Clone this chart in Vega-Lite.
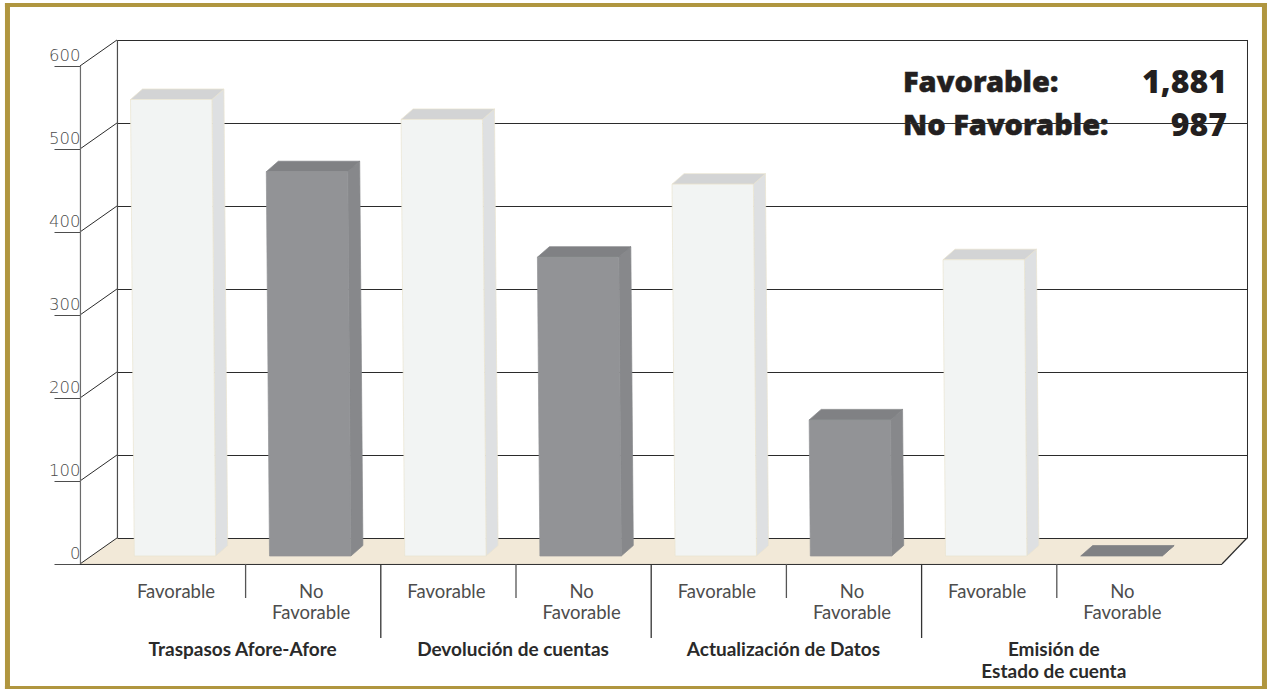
{
"$schema":"https://vega.github.io/schema/vega-lite/v6.json",
"width":1267,"height":689,"padding":0,"autosize":"none","background":"white",
"config":{"view":{"stroke":null},"point":{"opacity":1}},
"data":{"values":[
{"group":"Traspasos Afore-Afore","result":"Favorable","value":550},
{"group":"Traspasos Afore-Afore","result":"No Favorable","value":463},
{"group":"Devolución de cuentas","result":"Favorable","value":526},
{"group":"Devolución de cuentas","result":"No Favorable","value":360},
{"group":"Actualización de Datos","result":"Favorable","value":448},
{"group":"Actualización de Datos","result":"No Favorable","value":164},
{"group":"Emisión de\nEstado de cuenta","result":"Favorable","value":357},
{"group":"Emisión de\nEstado de cuenta","result":"No Favorable","value":0}
]},
"transform":[
{"calculate":"datum.group+'|'+datum.result","as":"key"},
{"calculate":"datum.value*0.83","as":"h"},
{"calculate":"datum.h*0.0083","as":"s"},
{"calculate":"'M40.7,0L52.7,-10.5L'+(52.7-datum.s)+','+(-10.5-datum.h)+'L'+(40.7-datum.s)+','+(-datum.h)+'Z'","as":"sideShape"},
{"calculate":"'M'+(-40.7-datum.s)+','+(-datum.h)+'L'+(40.7-datum.s)+','+(-datum.h)+'L'+(52.7-datum.s)+','+(-10.5-datum.h)+'L'+(-28.7-datum.s)+','+(-10.5-datum.h)+'Z'","as":"topShape"},
{"calculate":"'M-40.7,0L40.7,0L'+(40.7-datum.s)+','+(-datum.h)+'L'+(-40.7-datum.s)+','+(-datum.h)+'Z'","as":"frontShape"}
],
"resolve":{"scale":{"x":"independent","fill":"independent","stroke":"independent"},"axis":{"x":"independent","y":"independent"}},
"layer":[
{"data":{"values":[{}]},"mark":{"type":"point","shape":"M0,0L37,-26L1167,-26L1142,0Z","size":4,"filled":true,"opacity":1,"fill":"#f2e9d8","strokeWidth":0},
 "encoding":{"x":{"datum":63.1,"type":"quantitative","scale":{"domain":[0,1000],"range":[0,1267],"nice":false,"zero":false},"axis":null},
 "y":{"datum":-9.6,"type":"quantitative","scale":{"domain":[0,600],"range":[556,58],"nice":false},"axis":null}}},

{"data":{"values":[{"label":"Favorable:"}]},"mark":{"type":"text","align":"left","baseline":"middle","font":"Noto Sans","fontWeight":900,"fontSize":29,"color":"#231f20","stroke":"#231f20","strokeWidth":0.5},
 "encoding":{"text":{"field":"label"},"x":{"datum":712.7,"type":"quantitative","scale":{"domain":[0,1000],"range":[0,1267],"nice":false,"zero":false},"axis":null},
 "y":{"datum":569.9,"type":"quantitative","scale":{"domain":[0,600],"range":[556,58],"nice":false},"axis":null}}},
{"data":{"values":[{"label":"No Favorable:"}]},"mark":{"type":"text","align":"left","baseline":"middle","font":"Noto Sans","fontWeight":900,"fontSize":29,"color":"#231f20","stroke":"#231f20","strokeWidth":0.5},
 "encoding":{"text":{"field":"label"},"x":{"datum":712.7,"type":"quantitative","scale":{"domain":[0,1000],"range":[0,1267],"nice":false,"zero":false},"axis":null},
 "y":{"datum":518.1,"type":"quantitative","scale":{"domain":[0,600],"range":[556,58],"nice":false},"axis":null}}},
{"data":{"values":[{"label":"1,881"}]},"mark":{"type":"text","align":"right","baseline":"middle","font":"Noto Sans","fontWeight":900,"fontSize":32,"color":"#231f20"},
 "encoding":{"text":{"field":"label"},"x":{"datum":968.4,"type":"quantitative","scale":{"domain":[0,1000],"range":[0,1267],"nice":false,"zero":false},"axis":null},
 "y":{"datum":569.9,"type":"quantitative","scale":{"domain":[0,600],"range":[556,58],"nice":false},"axis":null}}},
{"data":{"values":[{"label":"987"}]},"mark":{"type":"text","align":"right","baseline":"middle","font":"Noto Sans","fontWeight":900,"fontSize":32,"color":"#231f20"},
 "encoding":{"text":{"field":"label"},"x":{"datum":968.4,"type":"quantitative","scale":{"domain":[0,1000],"range":[0,1267],"nice":false,"zero":false},"axis":null},
 "y":{"datum":518.1,"type":"quantitative","scale":{"domain":[0,600],"range":[556,58],"nice":false},"axis":null}}},

{"data":{"values":[{"tick":0},{"tick":100},{"tick":200},{"tick":300},{"tick":400},{"tick":500},{"tick":600}]},
 "mark":{"type":"rule","yOffset":-17.5,"color":"#2b2b2b","strokeWidth":1},
 "encoding":{"x":{"datum":92.7,"type":"quantitative","scale":{"domain":[0,1000],"range":[0,1267],"nice":false,"zero":false},"axis":null},"x2":{"datum":984.6},
 "y":{"field":"tick","type":"quantitative","scale":{"domain":[0,600],"range":[556,58],"nice":false},"axis":null}}},
{"data":{"values":[{"tick":0},{"tick":100},{"tick":200},{"tick":300},{"tick":400},{"tick":500},{"tick":600}]},
 "mark":{"type":"rule","yOffset":8,"y2Offset":-18,"color":"#2b2b2b","strokeWidth":1},
 "encoding":{"x":{"datum":63.1,"type":"quantitative","scale":{"domain":[0,1000],"range":[0,1267],"nice":false,"zero":false},"axis":null},"x2":{"datum":92.3},
 "y":{"field":"tick","type":"quantitative","scale":{"domain":[0,600],"range":[556,58],"nice":false},
   "axis":{"values":[0,100,200,300,400,500,600],"offset":-80,"domain":false,"grid":false,"title":null,"tickSize":26,"tickColor":"#4d4d4d","tickWidth":1,"tickOffset":8,"labelOffset":-11,"labelPadding":-26,"labelAlign":"right","labelBaseline":"middle","labelFont":"DejaVu Sans","labelFontSize":16.5,"labelFontWeight":200,"labelColor":"#4a4a4a"}},
 "y2":{"field":"tick"}}},
{"data":{"values":[{}]},"mark":{"type":"rule","color":"#6b6b6b","strokeWidth":1.2},
 "encoding":{"x":{"datum":63.5,"type":"quantitative","scale":{"domain":[0,1000],"range":[0,1267],"nice":false,"zero":false},"axis":null},
 "y":{"datum":-9.6,"type":"quantitative","scale":{"domain":[0,600],"range":[556,58],"nice":false},"axis":null},"y2":{"datum":590.4}}},
{"data":{"values":[{}]},"mark":{"type":"rule","color":"#4d4d4d","strokeWidth":1.2},
 "encoding":{"x":{"datum":92.7,"type":"quantitative","scale":{"domain":[0,1000],"range":[0,1267],"nice":false,"zero":false},"axis":null},
 "y":{"datum":21.7,"type":"quantitative","scale":{"domain":[0,600],"range":[556,58],"nice":false},"axis":null},"y2":{"datum":621.7}}},
{"data":{"values":[{}]},"mark":{"type":"rule","color":"#2b2b2b","strokeWidth":1},
 "encoding":{"x":{"datum":984.6,"type":"quantitative","scale":{"domain":[0,1000],"range":[0,1267],"nice":false,"zero":false},"axis":null},
 "y":{"datum":21.7,"type":"quantitative","scale":{"domain":[0,600],"range":[556,58],"nice":false},"axis":null},"y2":{"datum":621.7}}},
{"data":{"values":[{}]},"mark":{"type":"rule","color":"#2b2b2b","strokeWidth":1},
 "encoding":{"x":{"datum":63.1,"type":"quantitative","scale":{"domain":[0,1000],"range":[0,1267],"nice":false,"zero":false},"axis":null},"x2":{"datum":964.5},
 "y":{"datum":-10.2,"type":"quantitative","scale":{"domain":[0,600],"range":[556,58],"nice":false},"axis":null}}},
{"data":{"values":[{}]},"mark":{"type":"rule","color":"#2b2b2b","strokeWidth":1.2},
 "encoding":{"x":{"datum":964.5,"type":"quantitative","scale":{"domain":[0,1000],"range":[0,1267],"nice":false,"zero":false},"axis":null},"x2":{"datum":984.2},
 "y":{"datum":-9.6,"type":"quantitative","scale":{"domain":[0,600],"range":[556,58],"nice":false},"axis":null},"y2":{"datum":21.7}}},

{"mark":{"type":"point","filled":true,"opacity":1,"size":4,"strokeWidth":0.7},
 "encoding":{"x":{"field":"key","type":"nominal","sort":null,"scale":{"type":"band","domain":["Traspasos Afore-Afore|Favorable","Traspasos Afore-Afore|No Favorable","Devolución de cuentas|Favorable","Devolución de cuentas|No Favorable","Actualización de Datos|Favorable","Actualización de Datos|No Favorable","Emisión de\nEstado de cuenta|Favorable","Emisión de\nEstado de cuenta|No Favorable"],"range":[107.4,1189],"paddingInner":0,"paddingOuter":0},"axis":null},
 "y":{"datum":0,"type":"quantitative","scale":{"domain":[0,600],"range":[556,58],"nice":false},"axis":null},
 "shape":{"field":"sideShape","type":"nominal","scale":null,"legend":null},
 "fill":{"field":"result","type":"nominal","scale":{"domain":["Favorable","No Favorable"],"range":["#dee0e2","#87888b"]},"legend":null},
 "stroke":{"field":"result","type":"nominal","scale":{"domain":["Favorable","No Favorable"],"range":["#e9e4d0","#87888b"]},"legend":null}}},
{"mark":{"type":"point","filled":true,"opacity":1,"size":4,"strokeWidth":0.7},
 "encoding":{"x":{"field":"key","type":"nominal","sort":null,"scale":{"type":"band","domain":["Traspasos Afore-Afore|Favorable","Traspasos Afore-Afore|No Favorable","Devolución de cuentas|Favorable","Devolución de cuentas|No Favorable","Actualización de Datos|Favorable","Actualización de Datos|No Favorable","Emisión de\nEstado de cuenta|Favorable","Emisión de\nEstado de cuenta|No Favorable"],"range":[107.4,1189],"paddingInner":0,"paddingOuter":0},"axis":null},
 "y":{"datum":0,"type":"quantitative","scale":{"domain":[0,600],"range":[556,58],"nice":false},"axis":null},
 "shape":{"field":"topShape","type":"nominal","scale":null,"legend":null},
 "fill":{"field":"result","type":"nominal","scale":{"domain":["Favorable","No Favorable"],"range":["#d3d4d5","#808184"]},"legend":null},
 "stroke":{"field":"result","type":"nominal","scale":{"domain":["Favorable","No Favorable"],"range":["#e9e4d0","#808184"]},"legend":null}}},
{"mark":{"type":"bar","size":76,"xOffset":-2,"orient":"vertical"},
 "encoding":{"x":{"field":"key","type":"nominal","sort":null,"scale":{"type":"band","domain":["Traspasos Afore-Afore|Favorable","Traspasos Afore-Afore|No Favorable","Devolución de cuentas|Favorable","Devolución de cuentas|No Favorable","Actualización de Datos|Favorable","Actualización de Datos|No Favorable","Emisión de\nEstado de cuenta|Favorable","Emisión de\nEstado de cuenta|No Favorable"],"range":[107.4,1189],"paddingInner":0,"paddingOuter":0},
   "axis":{"orient":"bottom","offset":-124,"title":null,"grid":false,"ticks":false,"domain":false,"labelAngle":0,"labelAlign":"center","labelBaseline":"top","labelExpr":"split(split(datum.label,'|')[1],' ')","labelPadding":17,"labelOffset":1,"labelOverlap":false,"labelBound":false,"labelFlush":false,"labelFont":"Lato","labelFontWeight":400,"labelFontSize":18.5,"labelLineHeight":21,"labelColor":"#4d4d4d"}},
 "y":{"field":"value","type":"quantitative","scale":{"domain":[0,600],"range":[556,58],"nice":false},"axis":null},
 "fill":{"field":"result","type":"nominal","scale":{"domain":["Favorable","No Favorable"],"range":["#f2f4f3","#929396"]},"legend":null}}},
{"transform":[{"filter":"datum.value>0"}],"mark":{"type":"point","filled":true,"opacity":1,"size":4,"strokeWidth":0.7},
 "encoding":{"x":{"field":"key","type":"nominal","sort":null,"scale":{"type":"band","domain":["Traspasos Afore-Afore|Favorable","Traspasos Afore-Afore|No Favorable","Devolución de cuentas|Favorable","Devolución de cuentas|No Favorable","Actualización de Datos|Favorable","Actualización de Datos|No Favorable","Emisión de\nEstado de cuenta|Favorable","Emisión de\nEstado de cuenta|No Favorable"],"range":[107.4,1189],"paddingInner":0,"paddingOuter":0},"axis":null},
 "y":{"datum":0,"type":"quantitative","scale":{"domain":[0,600],"range":[556,58],"nice":false},"axis":null},
 "shape":{"field":"frontShape","type":"nominal","scale":null,"legend":null},
 "fill":{"field":"result","type":"nominal","scale":{"domain":["Favorable","No Favorable"],"range":["#f2f4f3","#929396"]},"legend":null},
 "stroke":{"field":"result","type":"nominal","scale":{"domain":["Favorable","No Favorable"],"range":["#e9e4d0","#929396"]},"legend":null}}},

{"transform":[{"filter":"datum.result==='Favorable'"}],"mark":{"type":"rule","xOffset":3,"color":"#555555","strokeWidth":1.3},
 "encoding":{"x":{"field":"key","type":"nominal","sort":null,"bandPosition":1,"scale":{"type":"band","domain":["Traspasos Afore-Afore|Favorable","Traspasos Afore-Afore|No Favorable","Devolución de cuentas|Favorable","Devolución de cuentas|No Favorable","Actualización de Datos|Favorable","Actualización de Datos|No Favorable","Emisión de\nEstado de cuenta|Favorable","Emisión de\nEstado de cuenta|No Favorable"],"range":[107.4,1189],"paddingInner":0,"paddingOuter":0},"axis":null},
 "y":{"datum":-9.6,"type":"quantitative","scale":{"domain":[0,600],"range":[556,58],"nice":false},"axis":null},"y2":{"datum":-50.6}}},
{"transform":[{"filter":"datum.result==='No Favorable' && datum.value>0"}],"mark":{"type":"rule","xOffset":3,"color":"#333333","strokeWidth":1.3},
 "encoding":{"x":{"field":"key","type":"nominal","sort":null,"bandPosition":1,"scale":{"type":"band","domain":["Traspasos Afore-Afore|Favorable","Traspasos Afore-Afore|No Favorable","Devolución de cuentas|Favorable","Devolución de cuentas|No Favorable","Actualización de Datos|Favorable","Actualización de Datos|No Favorable","Emisión de\nEstado de cuenta|Favorable","Emisión de\nEstado de cuenta|No Favorable"],"range":[107.4,1189],"paddingInner":0,"paddingOuter":0},"axis":null},
 "y":{"datum":-9.6,"type":"quantitative","scale":{"domain":[0,600],"range":[556,58],"nice":false},"axis":null},"y2":{"datum":-98.8}}},
{"transform":[{"filter":"datum.result==='Favorable'"}],"mark":{"type":"text","align":"center","baseline":"top","lineBreak":"\n","lineHeight":22,"font":"Lato","fontWeight":700,"fontSize":19,"color":"#2a2a2a"},
 "encoding":{"text":{"field":"group"},"x":{"field":"key","type":"nominal","sort":null,"bandPosition":1,"scale":{"type":"band","domain":["Traspasos Afore-Afore|Favorable","Traspasos Afore-Afore|No Favorable","Devolución de cuentas|Favorable","Devolución de cuentas|No Favorable","Actualización de Datos|Favorable","Actualización de Datos|No Favorable","Emisión de\nEstado de cuenta|Favorable","Emisión de\nEstado de cuenta|No Favorable"],"range":[107.4,1189],"paddingInner":0,"paddingOuter":0},"axis":null},
 "y":{"datum":-102.5,"type":"quantitative","scale":{"domain":[0,600],"range":[556,58],"nice":false},"axis":null}}},

{"data":{"values":[{}]},"mark":{"type":"rule","color":"#b0963f","strokeWidth":5},
 "encoding":{"x":{"datum":5.9,"type":"quantitative","scale":{"domain":[0,1000],"range":[0,1267],"nice":false,"zero":false},"axis":null},
 "y":{"datum":666.3,"type":"quantitative","scale":{"domain":[0,600],"range":[556,58],"nice":false},"axis":null},"y2":{"datum":-160.2}}},
{"data":{"values":[{}]},"mark":{"type":"rule","color":"#b0963f","strokeWidth":5},
 "encoding":{"x":{"datum":998,"type":"quantitative","scale":{"domain":[0,1000],"range":[0,1267],"nice":false,"zero":false},"axis":null},
 "y":{"datum":666.3,"type":"quantitative","scale":{"domain":[0,600],"range":[556,58],"nice":false},"axis":null},"y2":{"datum":-160.2}}},
{"data":{"values":[{}]},"mark":{"type":"rule","color":"#b0963f","strokeWidth":4},
 "encoding":{"x":{"datum":3.9,"type":"quantitative","scale":{"domain":[0,1000],"range":[0,1267],"nice":false,"zero":false},"axis":null},"x2":{"datum":1000},
 "y":{"datum":663.9,"type":"quantitative","scale":{"domain":[0,600],"range":[556,58],"nice":false},"axis":null}}},
{"data":{"values":[{}]},"mark":{"type":"rule","color":"#b0963f","strokeWidth":3},
 "encoding":{"x":{"datum":3.9,"type":"quantitative","scale":{"domain":[0,1000],"range":[0,1267],"nice":false,"zero":false},"axis":null},"x2":{"datum":1000},
 "y":{"datum":-158.4,"type":"quantitative","scale":{"domain":[0,600],"range":[556,58],"nice":false},"axis":null}}}
]
}
